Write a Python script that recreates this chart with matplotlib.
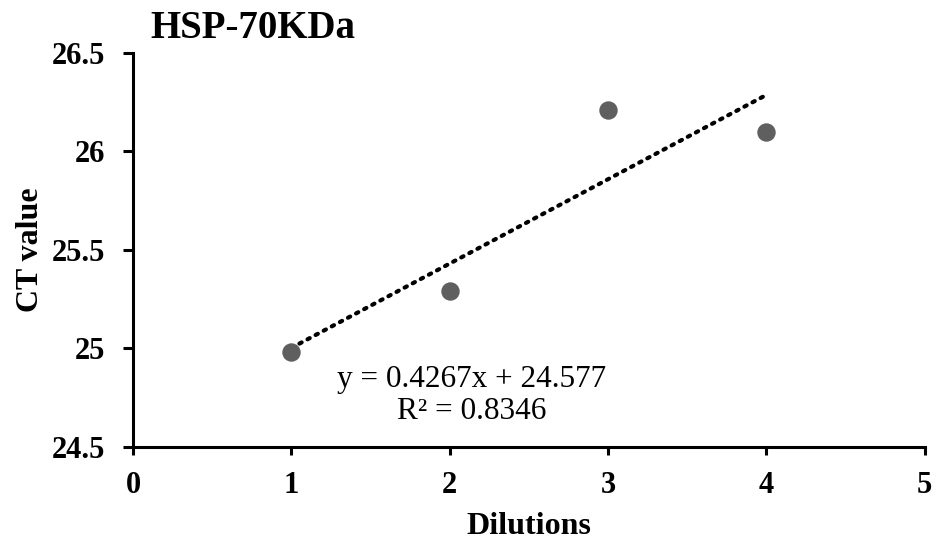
import numpy as np
import matplotlib.pyplot as plt

plt.rcParams['font.family'] = ['Liberation Serif', 'DejaVu Serif']

dilutions = [1, 2, 3, 4]
ct_values = [24.98, 25.29, 26.21, 26.10]
x_ticks = [0, 1, 2, 3, 4, 5]
y_ticks = [24.5, 25, 25.5, 26, 26.5]
y_tick_labels = ["24.5", "25", "25.5", "26", "26.5"]

fig = plt.figure(figsize=(9.38, 5.46), dpi=100)
ax = fig.add_axes([0.1418, 0.1813, 0.844, 0.7217])

# trendline from the points
slope, icpt = np.polyfit(dilutions, ct_values, 1)
xs = np.array([dilutions[0], dilutions[-1]])
ax.plot(xs, slope * xs + icpt, color='black', linestyle=(0, (0.6, 1.6)),
        linewidth=3, dash_capstyle='round', zorder=2)

ax.scatter(dilutions, ct_values, s=150, color='#5f5f5f', zorder=3)

ax.set_xlim(0, 5)
ax.set_ylim(24.5, 26.5)
ax.set_xticks(x_ticks)
ax.set_yticks(y_ticks)
ax.set_yticklabels(y_tick_labels)

for s in ['top', 'right']:
    ax.spines[s].set_visible(False)
for s in ['left', 'bottom']:
    ax.spines[s].set_linewidth(2.2)

ax.tick_params(axis='both', direction='out', width=2.2, labelsize=22)
ax.tick_params(axis='y', length=7, pad=13)
ax.tick_params(axis='x', length=6, pad=11)
for lbl in ax.get_xticklabels() + ax.get_yticklabels():
    lbl.set_fontweight('bold')

ax.set_xlabel("Dilutions", fontsize=23, fontweight='bold', labelpad=9)
ax.set_ylabel("CT value", fontsize=23, fontweight='bold', labelpad=5)

ax.text(2.14, 24.76, "y = %.4fx + %.3f\nR² = 0.8346" % (0.4267, 24.577),
        fontsize=22.5, ha='center', va='center', multialignment='center',
        linespacing=1.15)

fig.text(150 / 938, 1 - 38 / 546, "HSP-70KDa", fontsize=28, fontweight='bold',
         ha='left', va='baseline')

fig.savefig('out.png', dpi=100)
